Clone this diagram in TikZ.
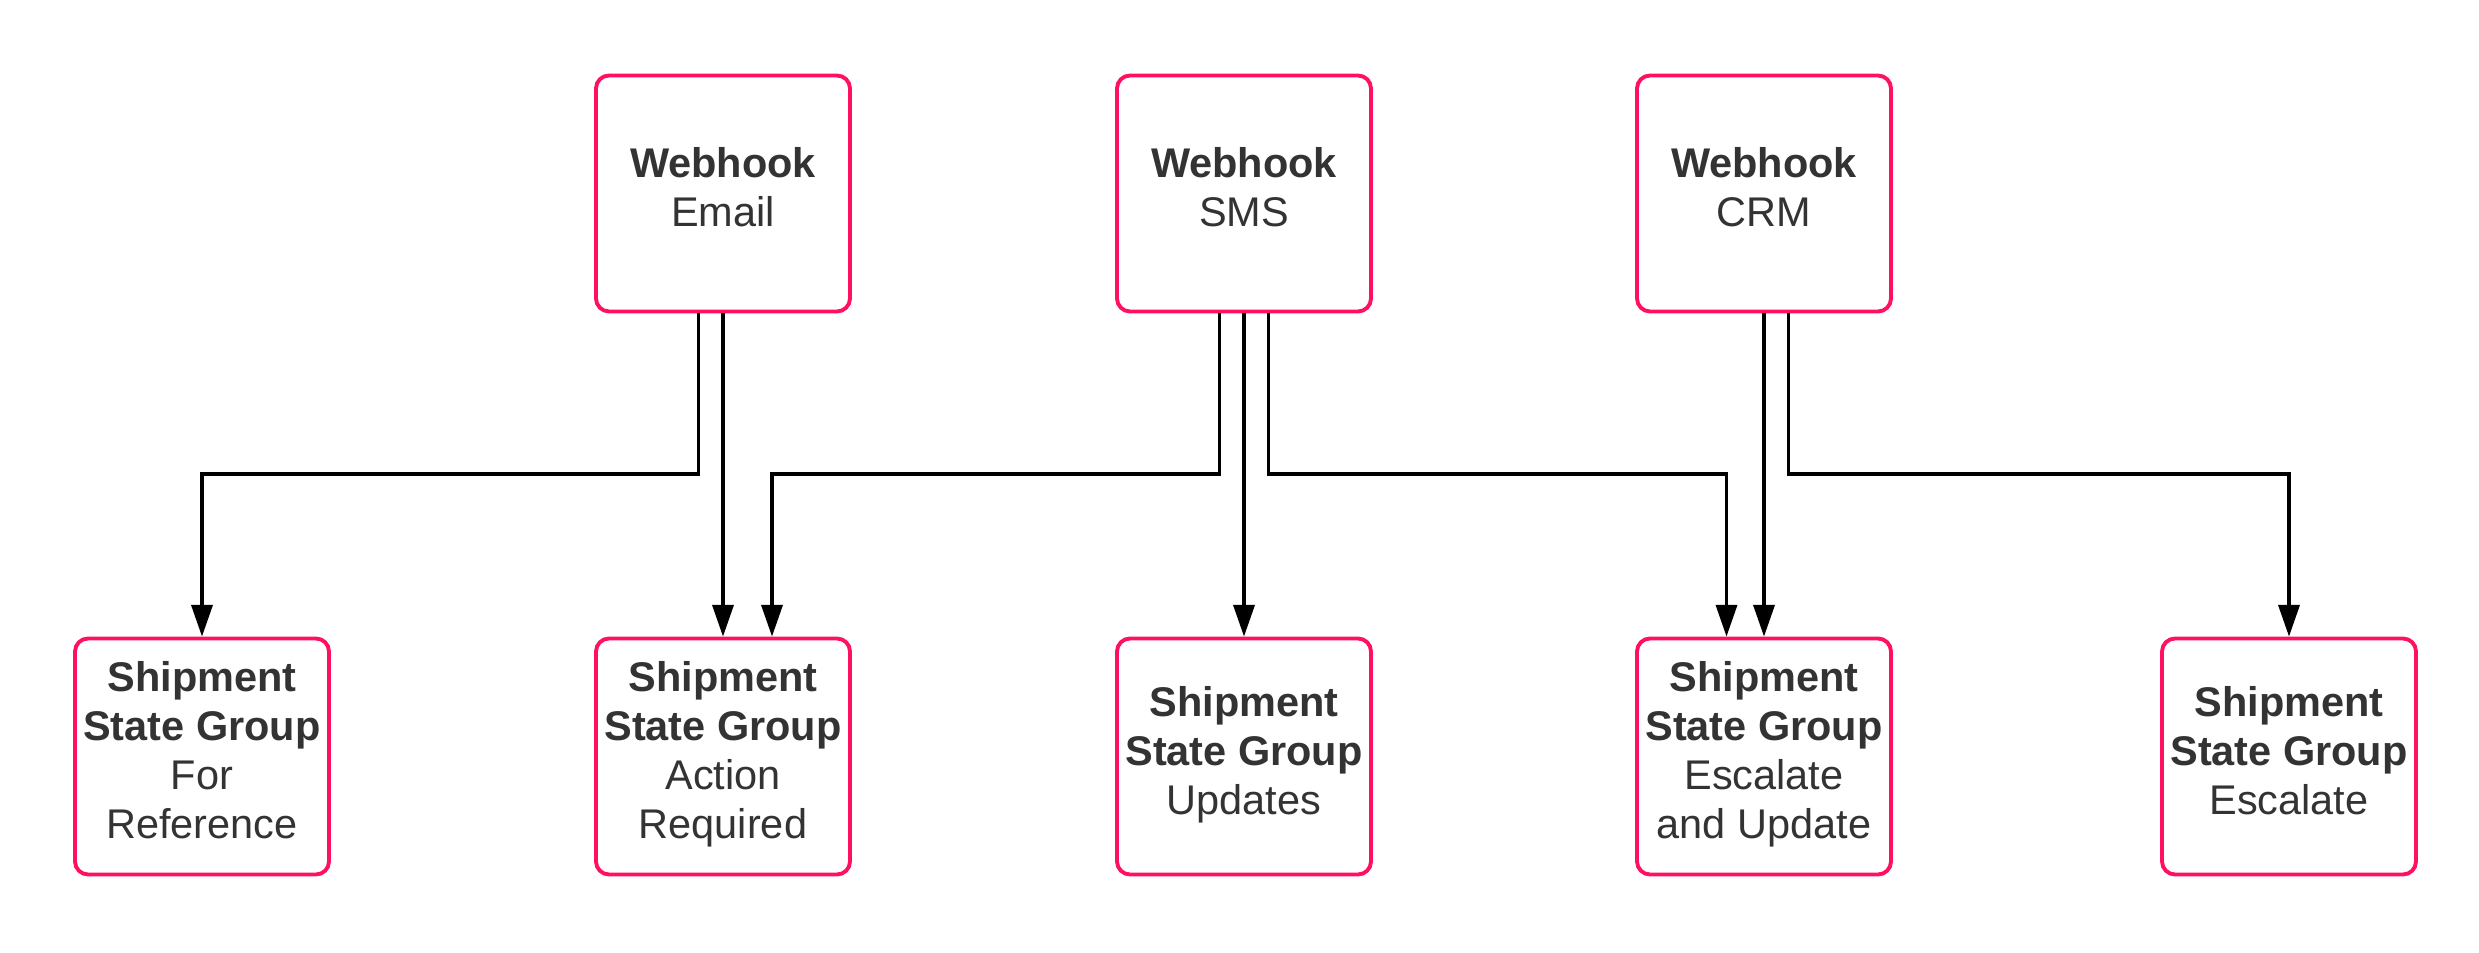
\documentclass[tikz,border=0pt]{standalone}
\usepackage{fontspec}
\setmainfont{Liberation Sans}
\usetikzlibrary{arrows.meta}
\definecolor{boxpink}{RGB}{255,16,96}
\definecolor{txtgray}{RGB}{51,51,51}
\tikzset{
    card/.style={draw=boxpink, line width=1.1pt, rounded corners=1.3mm, fill=white,
        minimum width=2.54cm, minimum height=2.36cm, inner sep=0pt, align=center,
        text depth=3.6pt, text=txtgray, font=\fontsize{11.8}{13.9}\selectfont},
    link/.style={line width=0.9pt, -{Triangle[length=9pt,width=6pt]}}
}
\begin{document}
\begin{tikzpicture}
    \useasboundingbox (0,0) rectangle (24.79,9.53);

    \node[card] (email) at (7.23,7.595) {\textbf{Webhook}\\Email};
    \node[card] (sms) at (12.44,7.595) {\textbf{Webhook}\\SMS};
    \node[card] (crm) at (17.64,7.595) {\textbf{Webhook}\\CRM};

    \node[card] (forref) at (2.02,1.965) {\textbf{Shipment}\\\textbf{State Group}\\For\\Reference};
    \node[card] (action) at (7.23,1.965) {\textbf{Shipment}\\\textbf{State Group}\\Action\\Required};
    \node[card] (updates) at (12.44,1.965) {\textbf{Shipment}\\\textbf{State Group}\\Updates};
    \node[card] (escupd) at (17.64,1.965) {\textbf{Shipment}\\\textbf{State Group}\\Escalate\\and Update};
    \node[card] (escalate) at (22.89,1.965) {\textbf{Shipment}\\\textbf{State Group}\\Escalate};

    \draw[link] ([xshift=-2.45mm]email.south) |- ([yshift=1.625cm]forref.north) -- (forref.north);
    \draw[link] (email.south) -- (action.north);

    \draw[link] ([xshift=-2.45mm]sms.south) |- ([xshift=4.9mm,yshift=1.625cm]action.north) -- ([xshift=4.9mm]action.north);
    \draw[link] (sms.south) -- (updates.north);
    \draw[link] ([xshift=2.45mm]sms.south) |- ([xshift=-3.75mm,yshift=1.625cm]escupd.north) -- ([xshift=-3.75mm]escupd.north);

    \draw[link] (crm.south) -- (escupd.north);
    \draw[link] ([xshift=2.45mm]crm.south) |- ([yshift=1.625cm]escalate.north) -- (escalate.north);
\end{tikzpicture}
\end{document}
